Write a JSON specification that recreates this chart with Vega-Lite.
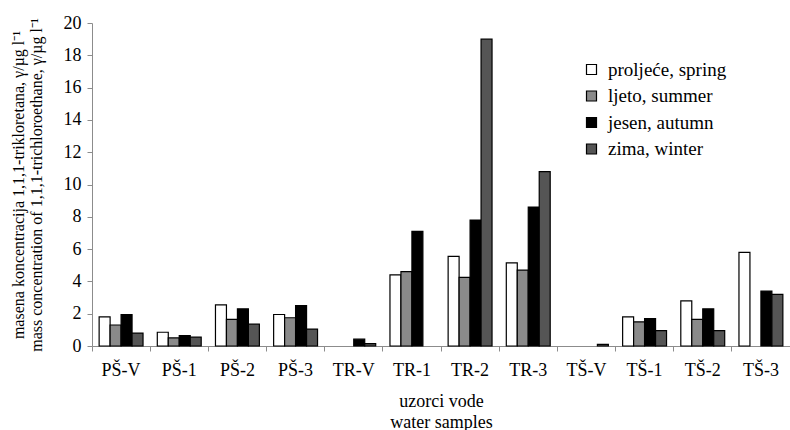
{
  "$schema": "https://vega.github.io/schema/vega-lite/v6.json",
  "width": 698,
  "height": 323,
  "autosize": {"type": "none"},
  "padding": {"left": 92, "top": 23, "right": 0, "bottom": 84},
  "background": "white",
  "config": {
    "view": {"stroke": null},
    "font": "'Liberation Serif', 'Times New Roman', serif",
    "axis": {"labelFont": "'Liberation Serif', 'Times New Roman', serif", "titleFont": "'Liberation Serif', 'Times New Roman', serif", "labelColor": "black", "titleColor": "black", "titleFontWeight": "normal", "grid": false, "domainColor": "#8c8c8c", "tickColor": "#8c8c8c"},
    "legend": {"labelFont": "'Liberation Serif', 'Times New Roman', serif"}
  },
  "data": {
    "values": [
      {"sample": "PŠ-V", "season": "proljeće, spring", "value": 1.8},
      {"sample": "PŠ-V", "season": "ljeto, summer", "value": 1.3},
      {"sample": "PŠ-V", "season": "jesen, autumn", "value": 1.95},
      {"sample": "PŠ-V", "season": "zima, winter", "value": 0.8},
      {"sample": "PŠ-1", "season": "proljeće, spring", "value": 0.85},
      {"sample": "PŠ-1", "season": "ljeto, summer", "value": 0.5},
      {"sample": "PŠ-1", "season": "jesen, autumn", "value": 0.65},
      {"sample": "PŠ-1", "season": "zima, winter", "value": 0.55},
      {"sample": "PŠ-2", "season": "proljeće, spring", "value": 2.55},
      {"sample": "PŠ-2", "season": "ljeto, summer", "value": 1.65},
      {"sample": "PŠ-2", "season": "jesen, autumn", "value": 2.3},
      {"sample": "PŠ-2", "season": "zima, winter", "value": 1.35},
      {"sample": "PŠ-3", "season": "proljeće, spring", "value": 1.95},
      {"sample": "PŠ-3", "season": "ljeto, summer", "value": 1.75},
      {"sample": "PŠ-3", "season": "jesen, autumn", "value": 2.5},
      {"sample": "PŠ-3", "season": "zima, winter", "value": 1.05},
      {"sample": "TR-V", "season": "jesen, autumn", "value": 0.42},
      {"sample": "TR-V", "season": "zima, winter", "value": 0.15},
      {"sample": "TR-1", "season": "proljeće, spring", "value": 4.4},
      {"sample": "TR-1", "season": "ljeto, summer", "value": 4.6},
      {"sample": "TR-1", "season": "jesen, autumn", "value": 7.1},
      {"sample": "TR-2", "season": "proljeće, spring", "value": 5.55},
      {"sample": "TR-2", "season": "ljeto, summer", "value": 4.25},
      {"sample": "TR-2", "season": "jesen, autumn", "value": 7.8},
      {"sample": "TR-2", "season": "zima, winter", "value": 19.0},
      {"sample": "TR-3", "season": "proljeće, spring", "value": 5.15},
      {"sample": "TR-3", "season": "ljeto, summer", "value": 4.7},
      {"sample": "TR-3", "season": "jesen, autumn", "value": 8.6},
      {"sample": "TR-3", "season": "zima, winter", "value": 10.8},
      {"sample": "TŠ-V", "season": "zima, winter", "value": 0.1},
      {"sample": "TŠ-1", "season": "proljeće, spring", "value": 1.8},
      {"sample": "TŠ-1", "season": "ljeto, summer", "value": 1.5},
      {"sample": "TŠ-1", "season": "jesen, autumn", "value": 1.7},
      {"sample": "TŠ-1", "season": "zima, winter", "value": 0.95},
      {"sample": "TŠ-2", "season": "proljeće, spring", "value": 2.8},
      {"sample": "TŠ-2", "season": "ljeto, summer", "value": 1.65},
      {"sample": "TŠ-2", "season": "jesen, autumn", "value": 2.3},
      {"sample": "TŠ-2", "season": "zima, winter", "value": 0.95},
      {"sample": "TŠ-3", "season": "proljeće, spring", "value": 5.8},
      {"sample": "TŠ-3", "season": "jesen, autumn", "value": 3.4},
      {"sample": "TŠ-3", "season": "zima, winter", "value": 3.2}
    ]
  },
  "mark": {"type": "bar", "stroke": "black", "strokeWidth": 1.2},
  "encoding": {
    "x": {
      "field": "sample",
      "type": "nominal",
      "sort": ["PŠ-V", "PŠ-1", "PŠ-2", "PŠ-3", "TR-V", "TR-1", "TR-2", "TR-3", "TŠ-V", "TŠ-1", "TŠ-2", "TŠ-3"],
      "scale": {"paddingInner": 0, "paddingOuter": 0},
      "axis": {
        "title": ["uzorci vode", "water samples"],
        "labelAngle": 0,
        "bandPosition": 0,
        "tickSize": 5,
        "labelPadding": 10,
        "labelFontSize": 18,
        "titleFontSize": 18,
        "titleLineHeight": 21,
        "titlePadding": 13
      }
    },
    "xOffset": {
      "field": "season",
      "type": "nominal",
      "sort": ["proljeće, spring", "ljeto, summer", "jesen, autumn", "zima, winter"],
      "scale": {"paddingOuter": 0.65, "paddingInner": 0}
    },
    "y": {
      "field": "value",
      "type": "quantitative",
      "scale": {"domain": [0, 20]},
      "axis": {
        "values": [0, 2, 4, 6, 8, 10, 12, 14, 16, 18, 20],
        "title": ["masena koncentracija 1,1,1-trikloretana, γ/µg l⁻¹", "mass concentration of 1,1,1-trichloroethane, γ/µg l⁻¹"],
        "tickSize": 5,
        "labelPadding": 6,
        "labelFontSize": 18,
        "titleFontSize": 16,
        "titleLineHeight": 18,
        "titlePadding": 19
      }
    },
    "fill": {
      "field": "season",
      "type": "nominal",
      "sort": ["proljeće, spring", "ljeto, summer", "jesen, autumn", "zima, winter"],
      "scale": {
        "domain": ["proljeće, spring", "ljeto, summer", "jesen, autumn", "zima, winter"],
        "range": ["white", "#8a8a8a", "black", "#555555"]
      },
      "legend": {
        "title": null,
        "orient": "none",
        "legendX": 490,
        "legendY": 37,
        "symbolType": "square",
        "symbolSize": 100,
        "symbolStrokeColor": "black",
        "symbolStrokeWidth": 1.2,
        "labelFontSize": 19,
        "labelColor": "black",
        "labelOffset": 7,
        "rowPadding": 6.5,
        "labelLimit": 300
      }
    }
  }
}
